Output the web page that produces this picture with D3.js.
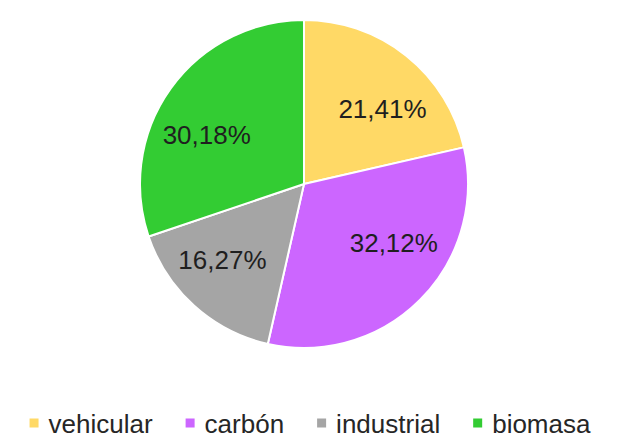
<!DOCTYPE html>
<html>
<head>
<meta charset="utf-8">
<script src="https://cdn.jsdelivr.net/npm/d3@7/dist/d3.min.js"></script>
<style>
  html, body { margin: 0; padding: 0; background: #ffffff; }
  svg { display: block; }
  text { font-family: "Liberation Sans", Arial, Helvetica, sans-serif; }
</style>
</head>
<body>
<svg id="chart" width="617" height="438"></svg>
<script>
// Source shares of emissions (percent)
const categories = ["vehicular", "carbón", "industrial", "biomasa"];
const shares = [21.41, 32.12, 16.27, 30.18];
const sliceColors = ["#FFD966", "#CC66FF", "#A5A5A5", "#33CC33"];

const width = 617, height = 438;
const cx = 304, cy = 184, radius = 164;

const svg = d3.select("#chart");

const data = categories.map((c, i) => ({ name: c, value: shares[i] }));

const color = d3.scaleOrdinal().domain(categories).range(sliceColors);

const pie = d3.pie().sort(null).value(d => d.value);
const arcs = pie(data);

const arc = d3.arc().innerRadius(0).outerRadius(radius);
const labelArc = d3.arc().innerRadius(radius * 0.67).outerRadius(radius * 0.67);

const g = svg.append("g").attr("transform", `translate(${cx},${cy})`);

g.selectAll("path.slice")
  .data(arcs)
  .join("path")
  .attr("class", "slice")
  .attr("d", arc)
  .attr("fill", d => color(d.data.name))
  .attr("stroke", "#ffffff")
  .attr("stroke-width", 2)
  .attr("stroke-linejoin", "round");

// small per-slice nudges so labels sit like the data-label placement of the chart
const nudge = {
  "vehicular": [10, 11],
  "carbón": [12, -19],
  "industrial": [-8, -6],
  "biomasa": [-8, 15]
};

const fmt = v => v.toFixed(2).replace(".", ",") + "%";

g.selectAll("text.value")
  .data(arcs)
  .join("text")
  .attr("class", "value")
  .attr("transform", d => {
    const [x, y] = labelArc.centroid(d);
    const n = nudge[d.data.name] || [0, 0];
    return `translate(${x + n[0]},${y + n[1]})`;
  })
  .attr("text-anchor", "middle")
  .attr("dy", "0.35em")
  .attr("font-size", 26)
  .attr("fill", "#1f1f1f")
  .text(d => fmt(d.data.value));

// Legend along the bottom
const legend = svg.append("g").attr("class", "legend");
const sw = 9, gapText = 10, gapItem = 33;
const items = legend.selectAll("g.item")
  .data(categories)
  .join("g")
  .attr("class", "item");

items.append("rect")
  .attr("width", sw).attr("height", sw)
  .attr("y", -sw / 2 - 1)
  .attr("fill", d => color(d));

items.append("text")
  .attr("x", sw + gapText)
  .attr("y", 0)
  .attr("dy", "0.35em")
  .attr("font-size", 26)
  .attr("fill", "#262626")
  .text(d => d);

let x = 0;
const widths = [];
items.each(function () {
  const w = d3.select(this).select("text").node().getComputedTextLength();
  widths.push(sw + gapText + w);
});
const total = d3.sum(widths) + gapItem * (widths.length - 1);
let start = 310 - total / 2;
items.attr("transform", (d, i) => {
  const t = `translate(${start},424)`;
  start += widths[i] + gapItem;
  return t;
});
</script>
</body>
</html>
